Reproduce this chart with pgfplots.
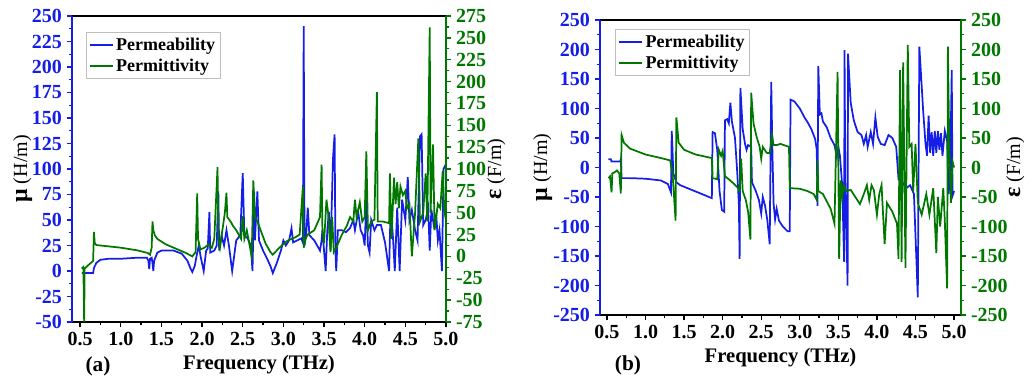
\documentclass[border=0pt]{standalone}
\usepackage{fontspec}
\setmainfont{Liberation Serif}
\usepackage{pgfplots}
\pgfplotsset{compat=1.18}
\definecolor{cblue}{RGB}{20,30,230}
\definecolor{cgreen}{RGB}{0,120,0}

\pgfplotstableread{
x y
0.52 -2
0.66 -2
0.67 3
0.70 8
0.75 11
0.85 12
1.00 12
1.20 13
1.32 13
1.34 10
1.35 2
1.36 12
1.38 13
1.39 8
1.40 0
1.41 10
1.45 18
1.50 20
1.65 20
1.75 17
1.82 10
1.86 2
1.88 -1
1.91 5
1.94 18
1.96 25
1.98 15
2.02 0
2.05 20
2.07 22
2.09 58
2.10 18
2.15 20
2.18 25
2.20 78
2.21 20
2.24 35
2.27 25
2.30 40
2.33 25
2.37 0
2.42 30
2.47 35
2.50 96
2.52 35
2.56 32
2.60 25
2.62 0
2.64 78
2.65 30
2.68 78
2.70 30
2.75 20
2.80 12
2.84 5
2.87 -2
2.92 8
2.97 20
3.00 30
3.03 25
3.07 30
3.10 42
3.12 28
3.17 30
3.22 32
3.24 28
3.25 240
3.26 25
3.28 35
3.30 62
3.32 35
3.38 30
3.45 20
3.47 30
3.48 40
3.50 20
3.52 0
3.54 40
3.56 58
3.58 20
3.61 110
3.63 134
3.64 20
3.65 0
3.67 40
3.72 40
3.77 38
3.82 42
3.86 50
3.88 40
3.92 58
3.95 40
3.98 35
4.00 25
4.02 70
4.04 25
4.06 18
4.08 50
4.12 40
4.15 45
4.20 45
4.25 28
4.30 0
4.32 65
4.35 30
4.37 0
4.40 62
4.43 0
4.46 70
4.50 50
4.53 92
4.55 50
4.58 60
4.62 40
4.65 30
4.68 132
4.70 134
4.72 45
4.75 50
4.78 62
4.80 20
4.82 60
4.85 45
4.88 55
4.90 30
4.92 40
4.95 0
4.97 100
5.00 105
}\muA

\pgfplotstableread{
x y
0.52 -14
0.54 -12
0.55 -78
0.555 -14
0.60 -10
0.65 -6
0.66 -5
0.67 28
0.68 15
0.70 13
0.80 12
1.00 10
1.20 7
1.33 4
1.36 2
1.38 10
1.39 40
1.40 30
1.42 24
1.45 20
1.55 14
1.70 8
1.80 4
1.88 0
1.92 5
1.94 72
1.95 20
1.98 8
2.03 10
2.08 14
2.12 10
2.15 20
2.19 102
2.20 20
2.22 10
2.25 30
2.28 50
2.30 73
2.31 45
2.35 40
2.38 35
2.42 30
2.45 25
2.48 20
2.50 46
2.52 20
2.55 30
2.58 15
2.61 0
2.62 40
2.63 87
2.65 45
2.68 40
2.72 30
2.78 15
2.84 5
2.87 2
2.95 10
3.05 18
3.15 22
3.20 25
3.24 80
3.25 10
3.27 20
3.30 25
3.38 30
3.45 45
3.47 105
3.48 30
3.50 15
3.53 65
3.55 50
3.58 5
3.60 45
3.62 5
3.65 10
3.72 25
3.78 35
3.82 45
3.86 40
3.88 65
3.90 45
3.94 62
3.97 40
4.00 45
4.02 120
4.04 30
4.08 40
4.12 42
4.15 188
4.16 40
4.22 40
4.30 38
4.31 95
4.33 20
4.36 90
4.38 60
4.40 85
4.42 55
4.44 80
4.47 70
4.50 75
4.52 55
4.55 60
4.58 0
4.62 50
4.66 135
4.68 40
4.72 50
4.75 95
4.77 40
4.80 262
4.81 50
4.84 128
4.86 30
4.90 60
4.93 55
4.96 98
4.98 50
5.00 60
}\epsA

\pgfplotstableread{
x y
0.52 14
0.55 14
0.56 10
0.67 10
0.68 14
0.69 -18
0.80 -18
1.00 -19
1.20 -22
1.29 -28
1.33 -42
1.34 62
1.35 30
1.36 -10
1.40 -25
1.45 -30
1.60 -38
1.75 -46
1.86 -52
1.87 60
1.90 58
1.93 30
1.96 -40
1.99 -72
2.02 -75
2.03 80
2.06 82
2.08 75
2.10 110
2.12 78
2.16 50
2.19 -10
2.21 -60
2.22 -155
2.23 135
2.26 65
2.29 40
2.31 30
2.33 38
2.37 35
2.38 -25
2.43 -40
2.47 -55
2.50 -78
2.52 -50
2.55 -65
2.58 -90
2.61 -130
2.63 145
2.645 28
2.66 -60
2.68 -88
2.70 -70
2.73 -90
2.78 -100
2.84 -108
2.87 -108
2.88 115
2.93 112
3.00 100
3.06 85
3.10 77
3.15 65
3.20 48
3.22 30
3.23 -65
3.24 172
3.26 90
3.28 92
3.30 78
3.35 68
3.40 50
3.45 38
3.48 18
3.50 35
3.52 20
3.55 -30
3.575 -160
3.58 199
3.59 -20
3.62 -200
3.625 193
3.66 110
3.70 80
3.75 60
3.80 55
3.83 40
3.86 55
3.88 35
3.92 60
3.95 40
3.98 85
4.01 52
4.05 40
4.10 38
4.15 55
4.20 50
4.25 35
4.28 -20
4.33 -25
4.38 -35
4.43 -30
4.48 -45
4.53 -220
4.55 205
4.60 95
4.63 40
4.65 20
4.67 88
4.69 25
4.71 60
4.73 20
4.75 62
4.77 25
4.79 62
4.81 30
4.83 58
4.85 20
4.88 62
4.91 45
4.93 -45
4.95 -5
4.97 165
4.98 -48
5.00 -40
}\muB

\pgfplotstableread{
x y
0.52 -18
0.54 -15
0.56 -42
0.57 -10
0.60 -8
0.63 -5
0.66 -10
0.68 -44
0.69 55
0.72 42
0.80 32
1.00 22
1.20 16
1.32 12
1.35 -10
1.39 -90
1.40 85
1.43 42
1.50 30
1.65 22
1.86 16
1.87 -18
1.93 -20
1.95 30
1.98 20
2.00 28
2.03 -15
2.08 -20
2.15 -28
2.20 -35
2.22 -40
2.24 15
2.26 -40
2.30 -55
2.33 -75
2.36 -122
2.37 127
2.40 75
2.44 52
2.48 35
2.50 15
2.52 35
2.57 25
2.61 24
2.64 55
2.66 38
2.70 38
2.75 40
2.86 35
2.87 -35
3.00 -36
3.10 -40
3.18 -45
3.22 -55
3.23 12
3.24 -40
3.30 -45
3.40 -70
3.45 -95
3.49 162
3.51 -155
3.53 -22
3.55 -50
3.57 -30
3.60 -40
3.66 -38
3.72 -50
3.78 -62
3.83 -45
3.87 -30
3.90 -55
3.93 -30
3.96 -38
4.00 -80
4.03 -45
4.06 -30
4.10 -130
4.13 -60
4.20 -75
4.26 -95
4.28 -155
4.30 165
4.32 -160
4.34 178
4.37 -170
4.40 208
4.42 35
4.45 40
4.47 -40
4.50 40
4.53 -60
4.58 -80
4.64 -45
4.68 -80
4.73 -35
4.77 -145
4.79 -50
4.82 -100
4.86 -35
4.88 -90
4.91 -205
4.92 205
4.94 15
4.96 -60
4.98 10
5.00 0
}\epsB

\pgfplotsset{
  base/.style={
    scale only axis,
    separate axis lines,
    tick align=outside,
    major tick length=4pt,
    minor tick length=2.5pt,
    xtick={0.5,1.0,1.5,2.0,2.5,3.0,3.5,4.0,4.5,5.0},
    minor x tick num=1,
    minor y tick num=1,
    /pgf/number format/assume math mode=true,
    tick label style={font=\fontsize{15}{15}\selectfont\bfseries},
    xticklabel style={/pgf/number format/fixed,/pgf/number format/fixed zerofill,/pgf/number format/precision=1},
    yticklabel style={/pgf/number format/fixed},
    label style={font=\fontsize{15.5}{15.5}\selectfont\bfseries},
    ylabel shift=-6pt,
    legend style={draw=gray!50, line width=0.6pt, font=\fontsize{13.5}{13.5}\selectfont\bfseries, row sep=1pt, inner sep=2pt},
    legend cell align=left,
    legend image code/.code={\draw[#1, line width=1.5pt] (0pt,0pt) -- (17pt,0pt);},
  },
  leftax/.style={base,
    axis y line*=left,
    xtick pos=left,
    x axis line style={black, line width=1.4pt},
    y axis line style={cblue, line width=1.8pt},
    ytick style={cblue, line width=1pt},
    xtick style={black, line width=1pt},
    yticklabel style={cblue},
  },
  rightax/.style={base,
    axis y line*=right,
    axis x line=none,
    y axis line style={cgreen, line width=1.8pt},
    ytick style={cgreen, line width=1pt},
    yticklabel style={cgreen},
  },
}

\begin{document}
\begin{tikzpicture}
\useasboundingbox (0,0) rectangle (774.75pt,283.5pt);

% ---------- panel (a) ----------
\begin{axis}[leftax,
  at={(54pt,42pt)}, anchor=south west,
  width=280.5pt, height=229.5pt,
  xmin=0.4, xmax=5.0, ymin=-50, ymax=250,
  ytick={-50,-25,...,250},
  xlabel={Frequency (THz)},
  ylabel={{\fontsize{18}{18}\selectfont\bfseries μ} {\mdseries\fontsize{15}{15}\selectfont (H/m)}},
  ylabel shift=-7pt,
]
\addplot[cblue, line width=1.3pt] table[x=x,y=y] {\muA};
\end{axis}
\begin{axis}[rightax,
  at={(54pt,42pt)}, anchor=south west,
  width=280.5pt, height=229.5pt,
  xmin=0.4, xmax=5.0, ymin=-75, ymax=275,
  ytick={-75,-50,...,275},
  ylabel={{\fontsize{18}{18}\selectfont\bfseries ε} {\mdseries\fontsize{15}{15}\selectfont (F/m)}},
  legend style={at={(0.037,0.948)}, anchor=north west},
]
\addlegendimage{cblue}
\addlegendentry{Permeability}
\addplot[cgreen, line width=1.3pt] table[x=x,y=y] {\epsA};
\addlegendentry{Permittivity}
\end{axis}
\node[font=\fontsize{16}{16}\selectfont\bfseries] at (73.5pt,9pt) {(a)};

% ---------- panel (b) ----------
\begin{axis}[leftax,
  at={(450pt,47.25pt)}, anchor=south west,
  width=270.75pt, height=221.25pt,
  xmin=0.41, xmax=5.09, ymin=-250, ymax=250,
  ytick={-250,-200,...,250},
  xlabel={Frequency (THz)},
  ylabel={{\fontsize{18}{18}\selectfont\bfseries μ} {\mdseries\fontsize{15}{15}\selectfont (H/m)}},
]
\addplot[cblue, line width=1.3pt] table[x=x,y=y] {\muB};
\end{axis}
\begin{axis}[rightax,
  at={(450pt,47.25pt)}, anchor=south west,
  width=270.75pt, height=221.25pt,
  xmin=0.41, xmax=5.09, ymin=-250, ymax=250,
  ytick={-250,-200,...,250},
  ylabel={{\fontsize{18}{18}\selectfont\bfseries ε} {\mdseries\fontsize{15}{15}\selectfont (F/m)}},
  ylabel shift=-8pt,
  legend style={at={(0.042,0.97)}, anchor=north west},
]
\addlegendimage{cblue}
\addlegendentry{Permeability}
\addplot[cgreen, line width=1.3pt] table[x=x,y=y] {\epsB};
\addlegendentry{Permittivity}
\end{axis}
\node[font=\fontsize{16}{16}\selectfont\bfseries] at (471pt,9.75pt) {(b)};
\end{tikzpicture}
\end{document}
